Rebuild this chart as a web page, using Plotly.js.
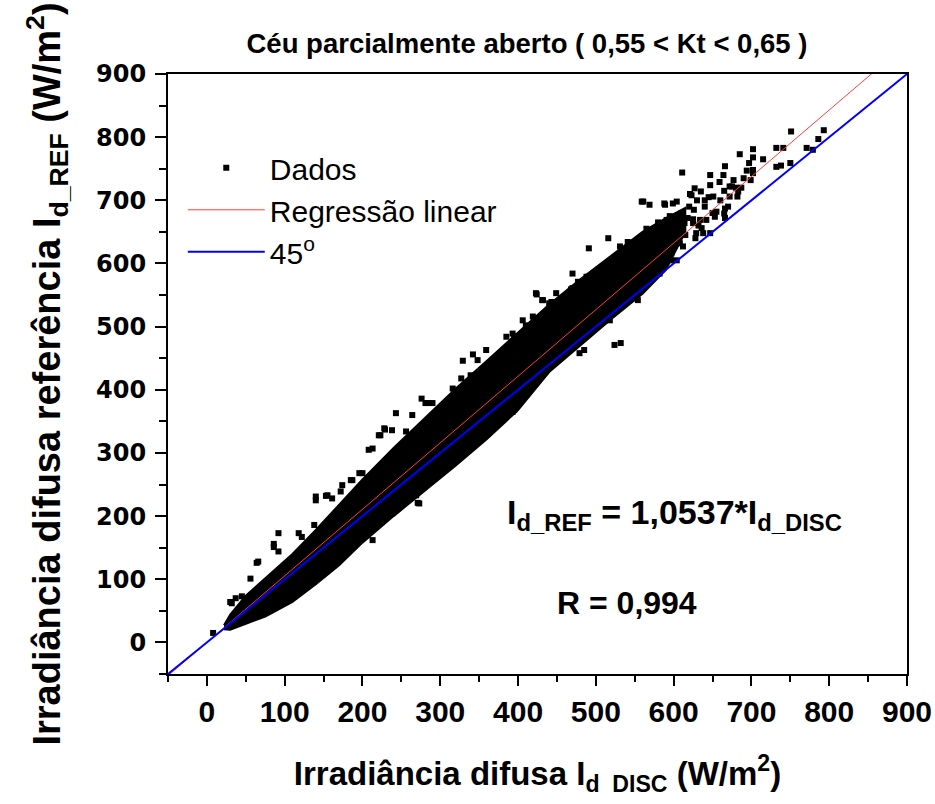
<!DOCTYPE html>
<html>
<head>
<meta charset="utf-8">
<script src="https://cdn.plot.ly/plotly-3.0.1.min.js"></script>
<style>html,body{margin:0;padding:0;background:#fff}#chart{width:935px;height:804px}</style>
</head>
<body>
<div id="chart"></div>
<script>
// ---- data ----
const chartTitle = "Céu parcialmente aberto ( 0,55 < Kt < 0,65 )";
const axisRange = [-50, 900];
const slope = 1.0537;           // regression I_d_REF = 1,0537 * I_d_DISC
const rValue = "0,994";

// dense core of the "Dados" cloud: envelope
const coreX     = [22, 30, 50, 75, 110, 140, 170, 200, 240, 280, 320, 360, 400, 440, 480, 520, 560, 590, 615];
const coreUpper = [27, 44, 74, 102, 140, 178, 218, 258, 308, 355, 402, 446, 490, 535, 575, 612, 650, 672, 688];
const coreLower = [21, 20, 29, 41, 64, 92, 122, 158, 200, 240, 280, 322, 368, 428, 470, 512, 552, 590, 650];

// individual points around the core
const ptsX = [8, 32, 37, 45, 56, 66, 30, 64, 86, 86, 92, 92, 118, 122, 138, 140, 140, 153, 155, 161, 172, 174, 187, 200,
  213, 213, 221, 223, 228, 229, 243, 264, 271, 269, 266, 234, 276, 281, 284, 329, 342, 348, 359, 376, 380, 393, 395,
  385, 393, 395, 406, 410, 419, 424, 432, 443, 468, 475, 477, 479, 485, 488, 491, 503, 516, 524, 532, 539, 554,
  559, 569, 589, 599, 621, 604, 623, 635, 647, 659, 677, 675, 672, 651, 655, 642, 629, 608, 597, 591, 647, 636, 614,
  591, 599, 611, 647, 666, 685, 702, 702, 697, 715, 732, 741, 751, 793, 786, 771, 779, 732, 738, 750, 699, 687, 682,
  666, 666, 694, 702, 565, 575, 580, 585, 595, 605, 610, 615, 620, 625, 630, 640, 645, 650, 660, 665, 670, 680, 690,
  185, 196, 208, 238, 256, 290, 316, 327, 339, 273,
  423, 431, 440, 449, 470, 470, 492, 531, 541, 561, 588, 627, 664, 672, 683, 702, 665, 653, 638, 634, 625, 612,
  604, 574, 565, 548, 518, 488, 470, 458, 445, 436, 582, 586, 597, 618, 626, 632, 628, 640];
const ptsY = [15, 62, 70, 73, 101, 128, 64, 126, 151, 156, 173, 144, 173, 167, 186, 225, 231, 232, 233, 228, 239, 249, 257, 268,
  162, 307, 328, 328, 339, 337, 363, 360, 221, 233, 233, 210, 386, 379, 379, 446, 456, 447, 463, 352, 352, 365, 368,
  484, 489, 484, 510, 502, 516, 551, 542, 539, 559, 547, 571, 458, 463, 579, 624, 590, 640, 471, 474, 558, 542,
  698, 693, 693, 695, 710, 698, 708, 714, 724, 729, 732, 722, 706, 706, 682, 669, 648, 632, 616, 627, 648, 656, 664,
  669, 653, 744, 740, 754, 773, 781, 768, 759, 765, 783, 783, 809, 811, 797, 783, 780, 753, 755, 759, 732, 720, 706,
  687, 672, 747, 743, 655, 640, 665, 650, 675, 660, 680, 645, 690, 670, 700, 690, 705, 680, 700, 715, 690, 720, 735,
  257, 268, 305, 336, 334, 379, 402, 418, 423, 220,
  553, 542, 537, 553, 584, 561, 576, 627, 634, 698, 695, 719, 740, 722, 714, 748, 679, 674, 648, 669, 664, 627,
  605, 606, 574, 553, 510, 489, 474, 458, 447, 431, 584, 595, 605, 672, 685, 660, 640, 700];

const lineX = [-50, 900];
const legendNames = ["Dados", "Regressão linear", "45<sup>o</sup>"];

// ---- build traces ----
const polyX = coreX.concat(coreX.slice().reverse());
const polyY = coreUpper.concat(coreLower.slice().reverse());

const bold = "Liberation Sans, Arial, sans-serif";
const wide = "DejaVu Sans, sans-serif";

const traces = [
  {x: polyX, y: polyY, mode: "lines", fill: "toself", fillcolor: "#000", line: {color: "#000", width: 2},
   showlegend: false, hoverinfo: "skip", legendgroup: "d"},
  {x: ptsX, y: ptsY, mode: "markers", name: legendNames[0], legendgroup: "d",
   marker: {symbol: "square", size: 6, color: "#000"}},
  {x: lineX, y: lineX.map(v => slope * v), mode: "lines", name: legendNames[1],
   line: {color: "#ff3c3c", width: 1}},
  {x: lineX, y: lineX.slice(), mode: "lines", name: legendNames[2],
   line: {color: "#0000ff", width: 2}}
];

const layout = {
  width: 935, height: 804,
  margin: {l: 168, r: 28, t: 74, b: 130},
  paper_bgcolor: "#fff", plot_bgcolor: "#fff",
  title: {text: chartTitle, x: 0.5636, xanchor: "center", y: 0.946, yanchor: "middle", yref: "container",
          font: {family: bold, size: 27.5, color: "#000", weight: "bold"}},
  showlegend: true,
  legend: {x: 0.02, y: 0.887, xanchor: "left", yanchor: "top", bgcolor: "rgba(0,0,0,0)",
           font: {family: bold, size: 30, color: "#000"}, itemwidth: 77, tracegroupgap: 0},
  xaxis: {range: axisRange, tick0: 0, dtick: 100, ticks: "outside", ticklen: 10, tickwidth: 2, tickcolor: "#000",
          minor: {dtick: 50, tick0: 0, ticks: "outside", ticklen: 6, tickwidth: 2, tickcolor: "#000"},
          showline: true, linecolor: "#000", linewidth: 2, mirror: true, showgrid: false, zeroline: false,
          ticklabeloverflow: "allow",
          tickfont: {family: bold, size: 30, color: "#000", weight: "bold"},
          title: {text: "Irradiância difusa I<sub>d  DISC</sub> (W/m<sup>2</sup>)", standoff: 35,
                  font: {family: bold, size: 33, color: "#000", weight: "bold"}}},
  yaxis: {range: axisRange, tick0: 0, dtick: 100, ticks: "outside", ticklen: 11, tickwidth: 2, tickcolor: "#000",
          minor: {dtick: 50, tick0: 0, ticks: "outside", ticklen: 7, tickwidth: 2, tickcolor: "#000"},
          showline: true, linecolor: "#000", linewidth: 2, mirror: true, showgrid: false, zeroline: false,
          ticklabelstandoff: 4,
          tickfont: {family: wide, size: 24, color: "#000", weight: "bold"},
          title: {text: "Irradiância difusa referência I<sub>d_REF</sub> (W/m<sup>2</sup>)", standoff: 24,
                  font: {family: bold, size: 38, color: "#000", weight: "bold"}}},
  annotations: [
    {x: 601, y: 202, xref: "x", yref: "y", showarrow: false, xanchor: "center", yanchor: "middle",
     text: "I<sub>d_REF</sub> = 1,0537*I<sub>d_DISC</sub>",
     font: {family: bold, size: 34, color: "#000", weight: "bold"}},
    {x: 540, y: 62, xref: "x", yref: "y", showarrow: false, xanchor: "center", yanchor: "middle",
     text: "R = " + rValue, font: {family: bold, size: 32, color: "#000", weight: "bold"}}
  ]
};

Plotly.newPlot("chart", traces, layout, {staticPlot: true, displayModeBar: false});
</script>
</body>
</html>
